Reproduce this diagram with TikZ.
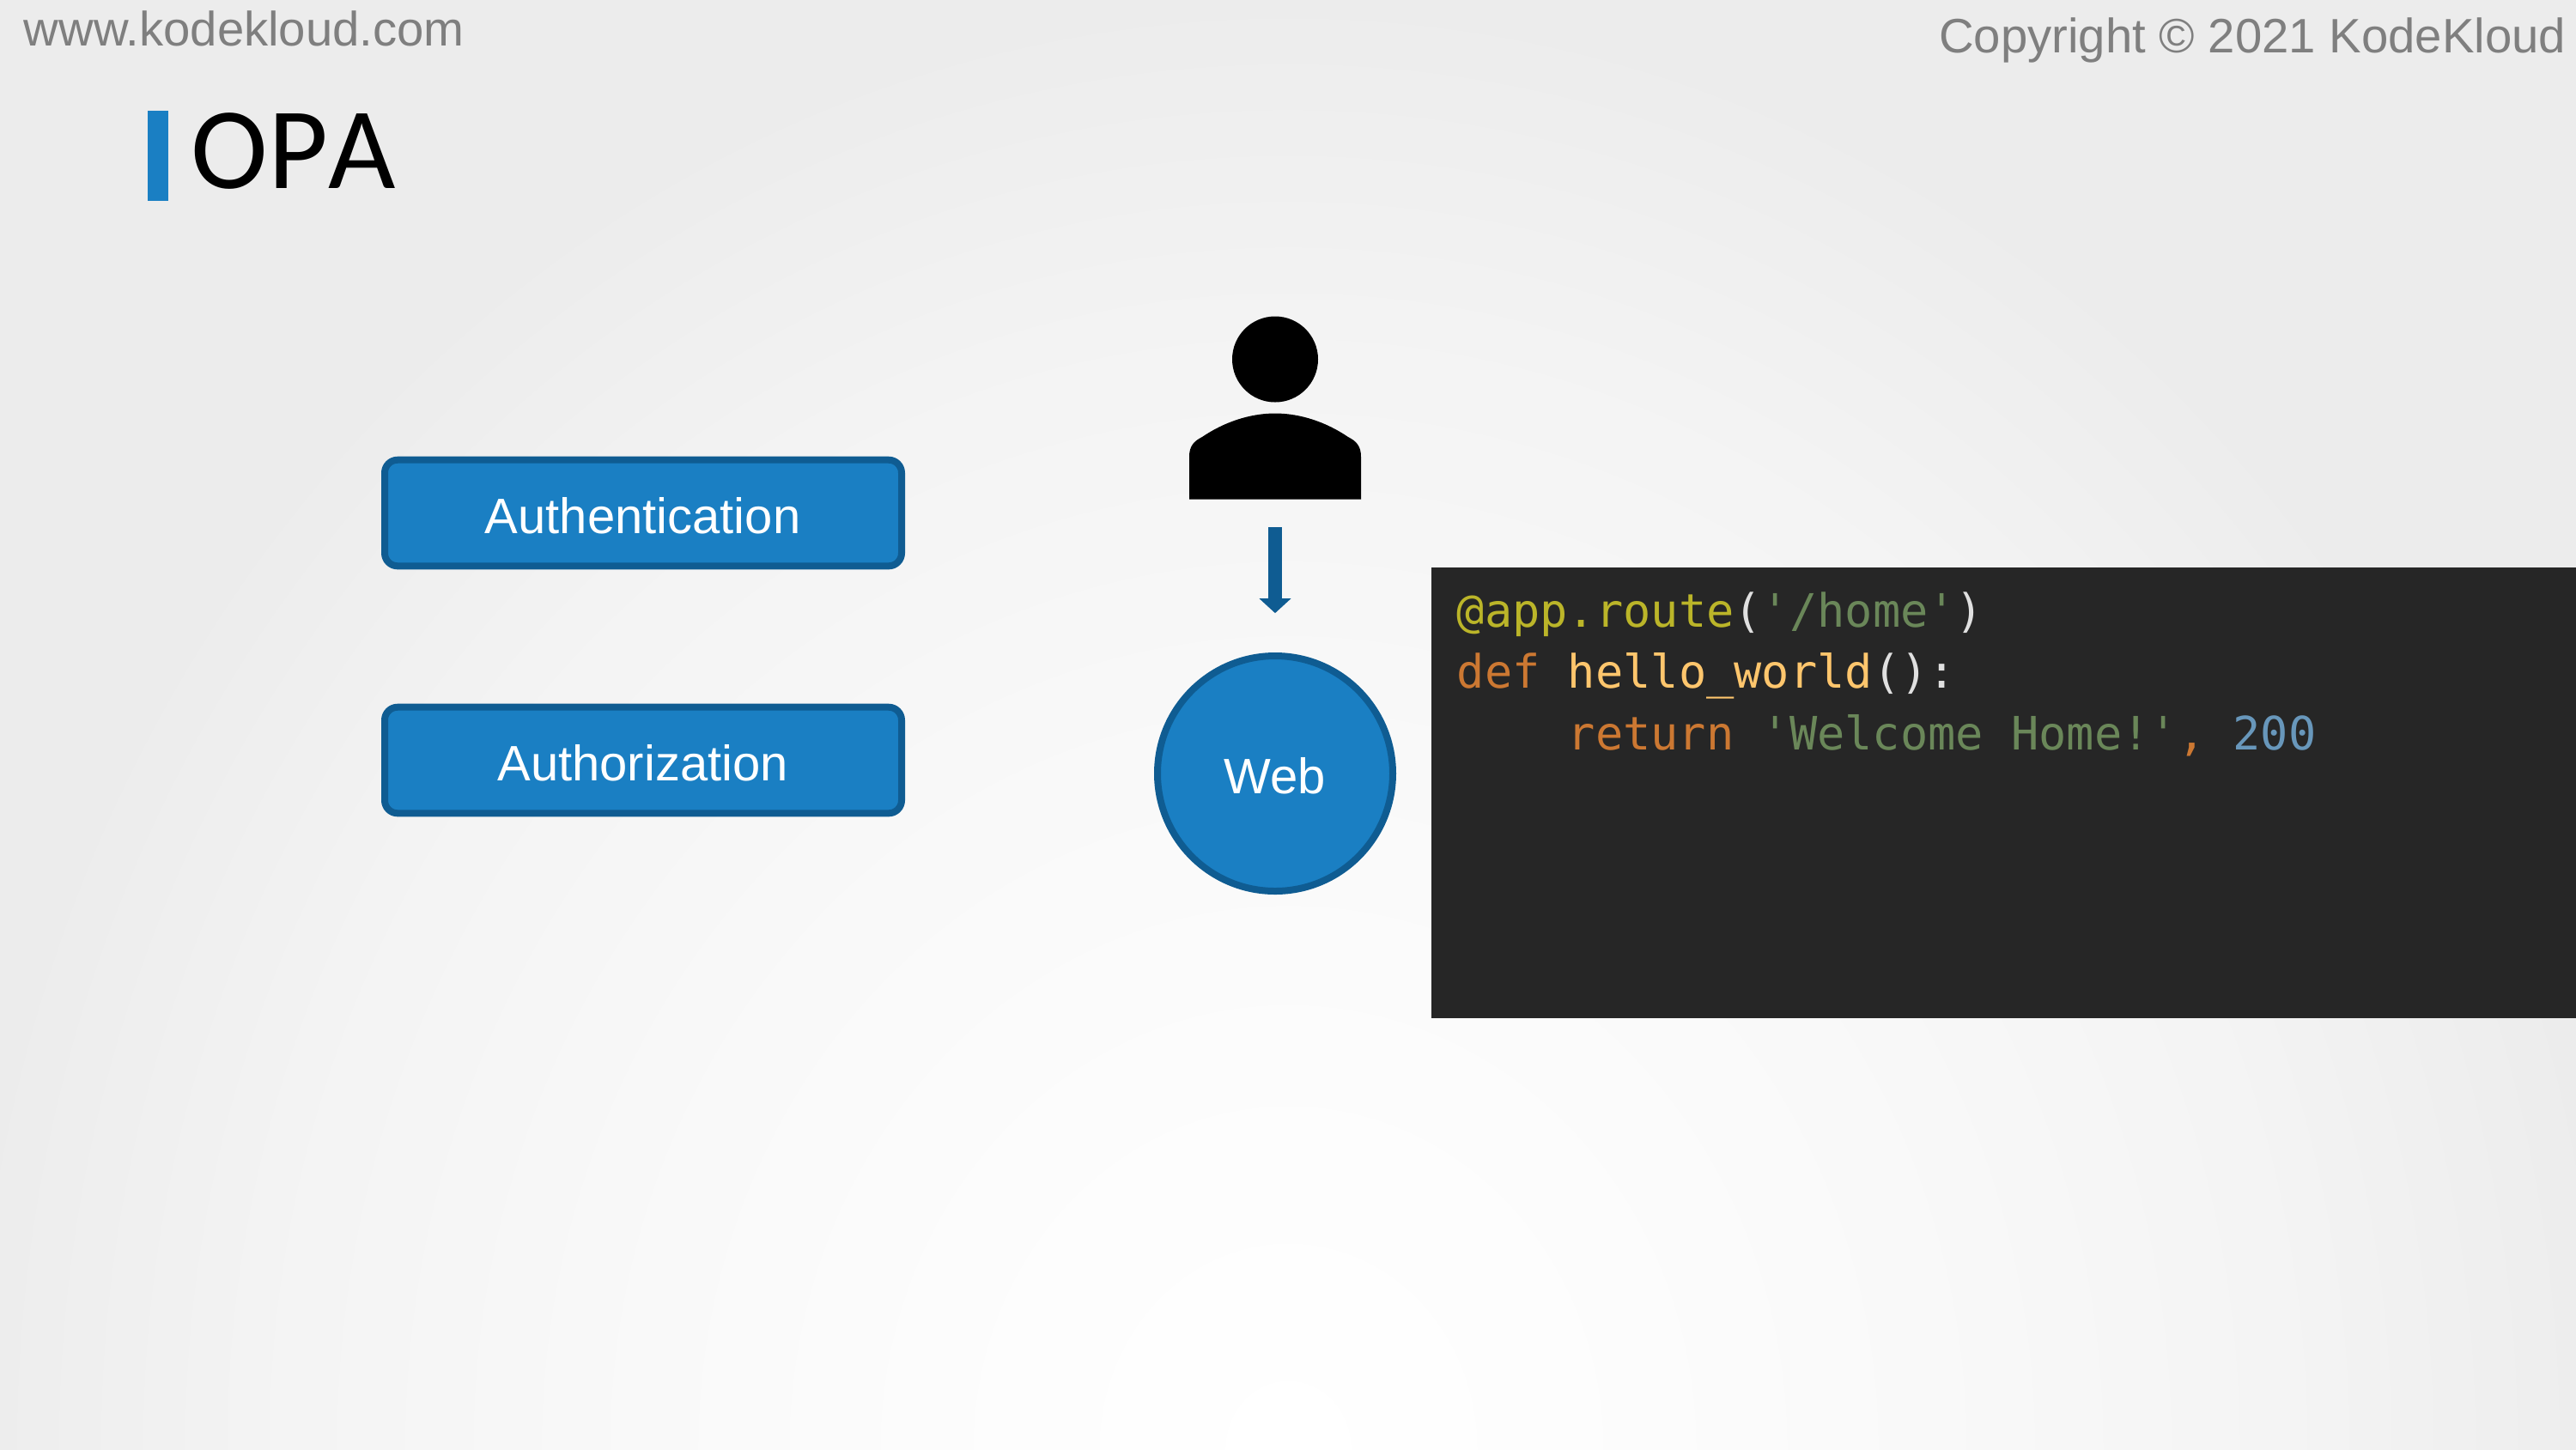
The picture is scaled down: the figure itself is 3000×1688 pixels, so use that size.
\documentclass[tikz,border=0pt]{standalone}
\usepackage{fontspec}
\setmainfont{Liberation Sans}
\newfontfamily\codefont{DejaVu Sans Mono}
\newfontfamily\titlefont[Kerning=Off]{Carlito}
\usetikzlibrary{arrows.meta}
\definecolor{kkblue}{HTML}{1A7FC3}
\definecolor{kkedge}{HTML}{0F5C92}
\definecolor{kkgray}{HTML}{7F7F7F}
\definecolor{codebg}{HTML}{262626}
\definecolor{cdeco}{HTML}{BBB529}
\definecolor{cstr}{HTML}{6A8759}
\definecolor{ckey}{HTML}{CC7832}
\definecolor{cfunc}{HTML}{FFC66D}
\definecolor{cnum}{HTML}{6897BB}
\definecolor{cpunc}{HTML}{E0E0E0}
\pgfdeclareradialshading{pagebg}{\pgfpoint{0bp}{0bp}}{
  color(0bp)=(white);
  color(6bp)=(white!99!black);
  color(12.5bp)=(white!97.5!black);
  color(19bp)=(white!95.5!black);
  color(25bp)=(white!92.5!black);
  color(50bp)=(white!92.5!black)}
\tikzset{
  x=0.24pt,y=-0.24pt,
  gatebox/.style={draw=kkedge,fill=kkblue,line width=1.92pt,rounded corners=3.6pt,
    minimum width=144.48pt,minimum height=29.66pt,inner sep=0pt,text=white,
    font=\fontsize{13.92pt}{16pt}\selectfont,text height=11.28pt,text depth=0pt},
  webnode/.style={circle,draw=kkedge,fill=kkblue,line width=1.92pt,minimum size=65.76pt,
    inner sep=0pt,text=white,font=\fontsize{13.92pt}{16pt}\selectfont,text height=11.28pt,text depth=0pt},
  corner/.style={inner sep=0pt,text=kkgray,font=\fontsize{13.51pt}{16pt}\selectfont},
  codeline/.style={anchor=base west,inner sep=0pt,font=\codefont\fontsize{12.87pt}{15pt}\selectfont},
  flow/.style={draw=kkedge,line width=3.84pt,-{Triangle[width=8.64pt,length=4.08pt]}},
}
\begin{document}
\begin{tikzpicture}
\useasboundingbox (0,0) rectangle (3000,1688);
\fill[white!92.5!black] (0,0) rectangle (3000,1688);
\begin{scope}
  \clip (0,0) rectangle (3000,1688);
  \path[shading=pagebg] (1500,1688) ellipse (1560 and 1700);
\end{scope}

\node[corner,anchor=base west] (site) at (27,53) {www.kodekloud.com};
\node[corner,anchor=base east] (copy) at (2989,61) {Copyright © 2021 KodeKloud};

\fill[kkblue] (172,129) rectangle (196,234);
\node[anchor=base west,inner sep=0pt,font=\titlefont\fontsize{32.5pt}{36pt}\selectfont] (title) at (222,219) {OPA};

\node[gatebox] (authn) at (749,597.5) {\hspace*{-0.2pt}Authentication};
\node[gatebox] (authz) at (749,885.5) {\hspace*{-0.2pt}Authorization};

% person icon
\fill[black] (1485,418.5) circle (50);
\fill[black] (1385,581.5) -- (1385,532)
  .. controls (1385,520) and (1390,514) .. (1400,509)
  .. controls (1425,492) and (1455,481.5) .. (1485,481.5)
  .. controls (1515,481.5) and (1545,492) .. (1570,509)
  .. controls (1580,514) and (1585,520) .. (1585,532)
  -- (1585,581.5) -- cycle;
\coordinate (personfoot) at (1485,581.5);

\node[webnode] (web) at (1485,901) {Web};
\draw[flow,shorten <=7.8pt,shorten >=11pt] (personfoot) -- (web.north);

\fill[codebg] (1667,661) rectangle (3000,1186);
\node[codeline] (l1) at (1696,730) {\textcolor{cdeco}{@app.route}\textcolor{cpunc}{(}\textcolor{cstr}{'/home'}\textcolor{cpunc}{)}};
\node[codeline] (l2) at (1696,801) {\textcolor{ckey}{def} \textcolor{cfunc}{hello\_world}\textcolor{cpunc}{():}};
\node[codeline] (l3) at (1825,873) {\textcolor{ckey}{return} \textcolor{cstr}{'Welcome Home!'}\textcolor{ckey}{,} \textcolor{cnum}{200}};
\end{tikzpicture}
\end{document}
